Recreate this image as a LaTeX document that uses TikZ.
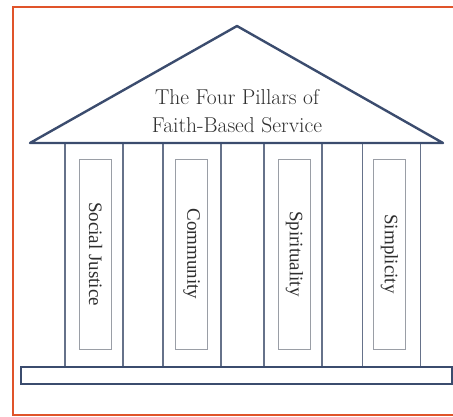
\documentclass[tikz,border=0pt]{standalone}
\usepackage{fontspec}
\newfontfamily\pillarfont{Liberation Serif}
\usetikzlibrary{positioning}
\definecolor{roofblue}{HTML}{3B4C6E}
\definecolor{pillarblue}{HTML}{66728A}
\definecolor{panelgray}{HTML}{9A9EA6}
\definecolor{textgray}{HTML}{2E2E2E}
\definecolor{frameorange}{HTML}{E0542A}
\tikzset{
    frame/.style = {draw=frameorange, line width=2.2pt},
    roof/.style = {draw=roofblue, line width=2.4pt, line join=round},
    pillar/.style = {rectangle, draw=pillarblue, line width=1.2pt, inner sep=0pt,
        minimum width=58pt, minimum height=224pt},
    panel/.style = {rectangle, draw=panelgray, line width=1pt, inner sep=0pt,
        minimum width=32pt, minimum height=190pt},
    pillartext/.style = {rotate=-90, text=textgray, font=\pillarfont\fontsize{19}{19}\selectfont},
    title/.style = {align=center, text=textgray, font=\fontsize{21.5}{28}\selectfont},
    basebox/.style = {rectangle, draw=roofblue, line width=2.4pt, inner sep=0pt,
        minimum width=431pt, minimum height=17pt}
}
\begin{document}
\begin{tikzpicture}[x=1pt,y=-1pt]
  \useasboundingbox (0,0) rectangle (453,416);
  % frame
  \draw[frame] (453,7) -- (13,7) -- (13,415) -- (453,415);

  % pillars
  \node[pillar] (p1) at (94,255) {};
  \node[pillar] (p2) at (192,255) {};
  \node[pillar] (p3) at (293,255) {};
  \node[pillar] (p4) at (391.5,255) {};

  \node[panel] (s1) at (95.5,254) {};
  \node[panel] (s2) at (191.5,254) {};
  \node[panel] (s3) at (294.5,254) {};
  \node[panel] (s4) at (389.5,254) {};

  \node[pillartext] (t1) at (s1.center) {Social Justice};
  \node[pillartext] (t2) at (s2.center) {Community};
  \node[pillartext] (t3) at (s3.center) {Spirituality};
  \node[pillartext] (t4) at (s4.center) {Simplicity};

  % roof
  \coordinate (apex) at (237,26);
  \coordinate (eaveL) at (30,143);
  \coordinate (eaveR) at (443,143);
  \draw[roof] (eaveL) -- (apex) -- (eaveR) -- cycle;
  \node[title] (head) at (237,111) {The Four Pillars of\\Faith-Based Service};

  % base
  \node[basebox, fill=white] (base) at (236.5,375.5) {};
\end{tikzpicture}
\end{document}
